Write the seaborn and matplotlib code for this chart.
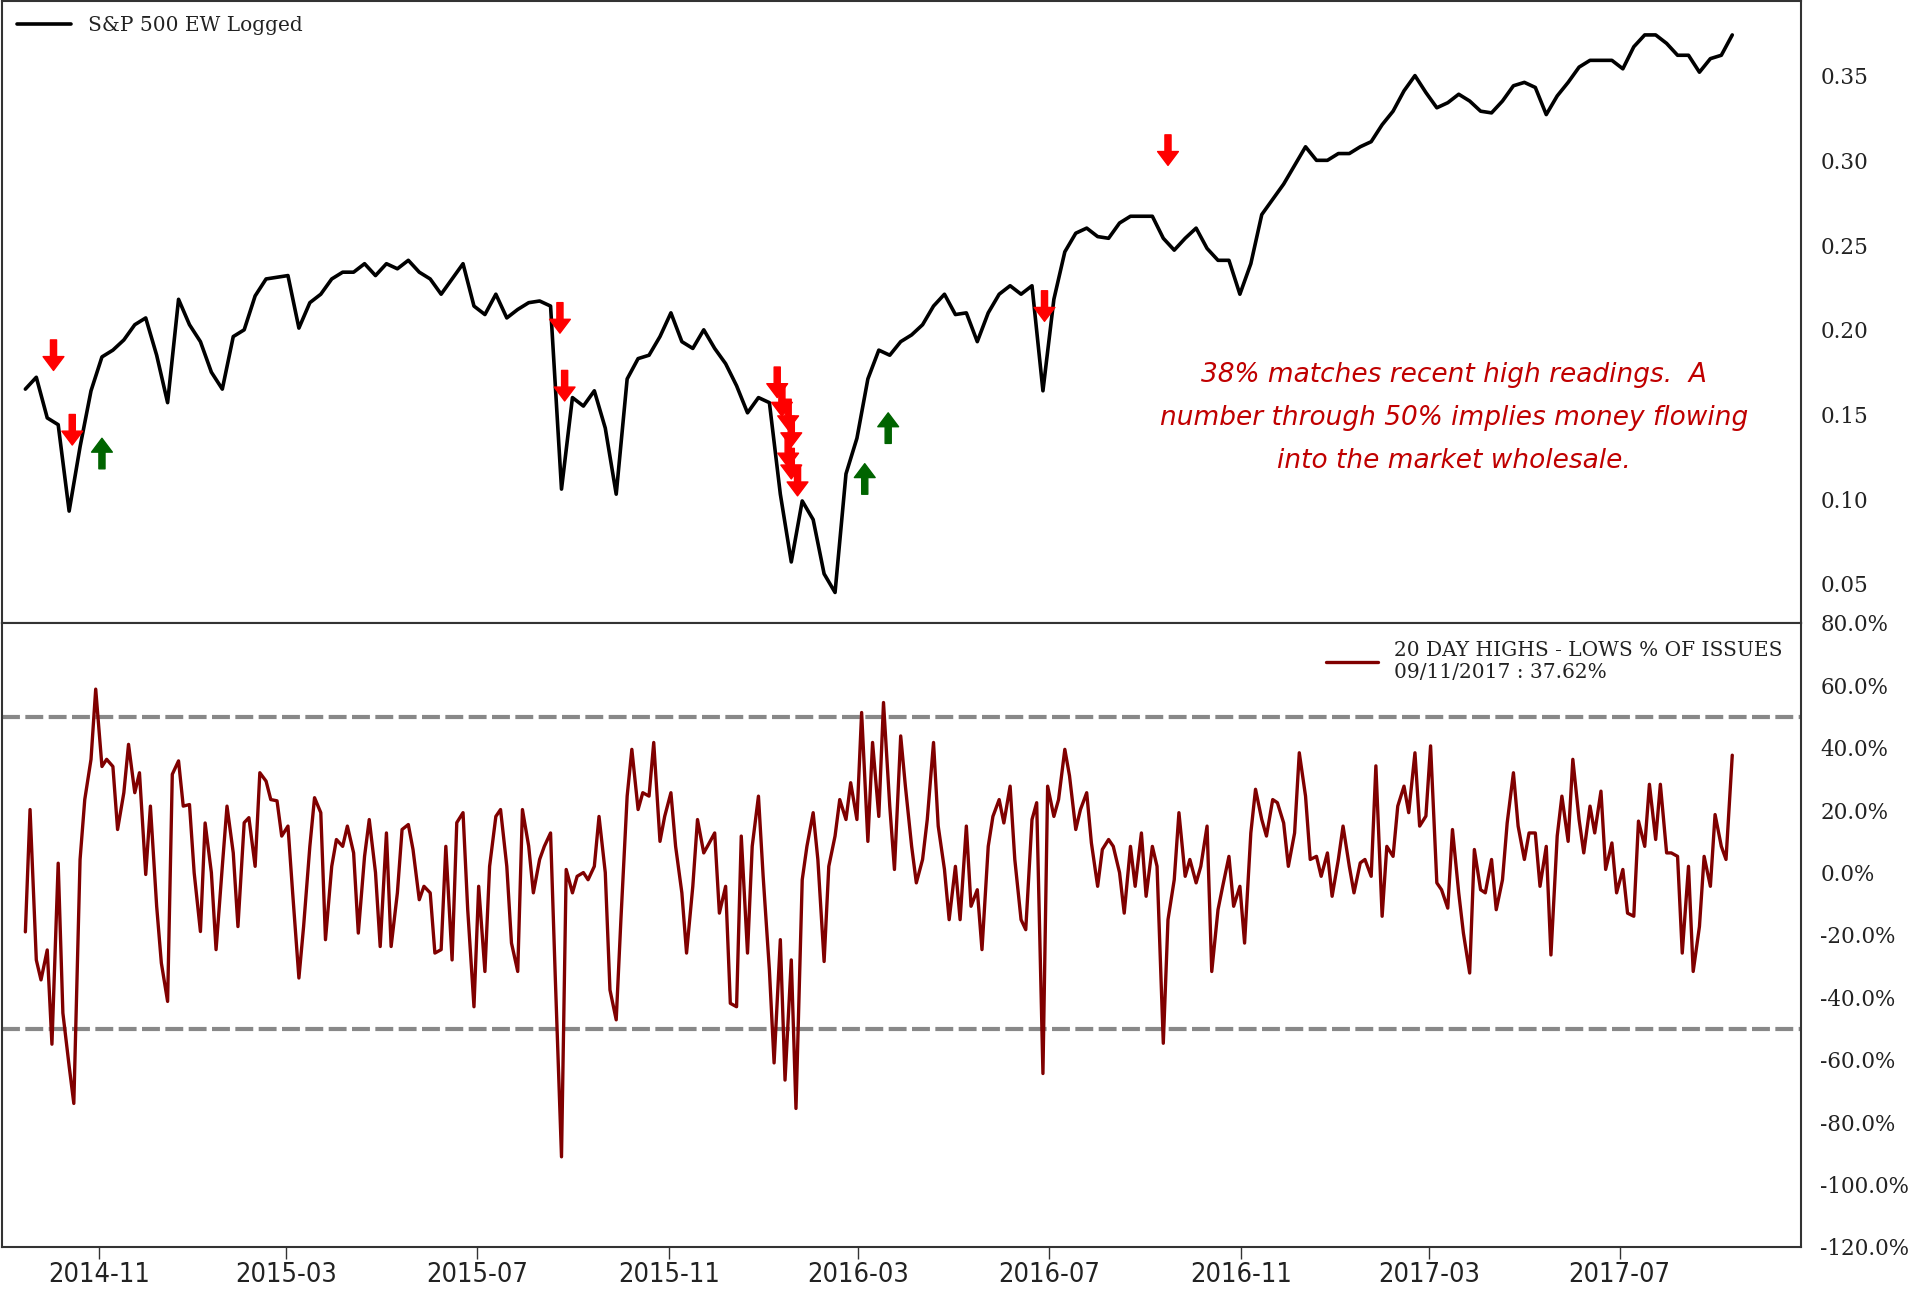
import pandas as pd
import matplotlib
matplotlib.use('Agg')
import matplotlib.pyplot as plt
import matplotlib.dates as mdates
from matplotlib.ticker import FuncFormatter
import seaborn as sns

# weekly closes of the log equal-weight index
weeks = pd.date_range('2014-09-15', '2017-09-11', freq='W-MON')
sp_ew_logged = [
    0.165, 0.172, 0.148, 0.144, 0.093, 0.131, 0.164, 0.184, 0.188, 0.194,
    0.203, 0.207, 0.185, 0.157, 0.218, 0.203, 0.193, 0.175, 0.165, 0.196,
    0.200, 0.220, 0.230, 0.231, 0.232, 0.201, 0.216, 0.221, 0.230, 0.234,
    0.234, 0.239, 0.232, 0.239, 0.236, 0.241, 0.234, 0.230, 0.221, 0.230,
    0.239, 0.214, 0.209, 0.221, 0.207, 0.212, 0.216, 0.217, 0.214, 0.106,
    0.160, 0.155, 0.164, 0.142, 0.103, 0.171, 0.183, 0.185, 0.196, 0.210,
    0.193, 0.189, 0.200, 0.189, 0.180, 0.167, 0.151, 0.160, 0.157, 0.103,
    0.063, 0.099, 0.088, 0.056, 0.045, 0.115, 0.136, 0.171, 0.188, 0.185,
    0.193, 0.197, 0.203, 0.214, 0.221, 0.209, 0.210, 0.193, 0.210, 0.221,
    0.226, 0.221, 0.226, 0.164, 0.218, 0.246, 0.257, 0.260, 0.255, 0.254,
    0.263, 0.267, 0.267, 0.267, 0.254, 0.247, 0.254, 0.260, 0.248, 0.241,
    0.241, 0.221, 0.239, 0.268, 0.277, 0.286, 0.297, 0.308, 0.300, 0.300,
    0.304, 0.304, 0.308, 0.311, 0.321, 0.329, 0.341, 0.350, 0.340, 0.331,
    0.334, 0.339, 0.335, 0.329, 0.328, 0.335, 0.344, 0.346, 0.343, 0.327,
    0.338, 0.346, 0.355, 0.359, 0.359, 0.359, 0.354, 0.367, 0.374, 0.374,
    0.369, 0.362, 0.362, 0.352, 0.360, 0.362, 0.374,
]

# 20 day highs - lows, % of issues, Mondays and Thursdays
half_weeks = pd.date_range('2014-09-15', '2017-09-11', freq='W-MON').union(
    pd.date_range('2014-09-15', '2017-09-11', freq='W-THU'))
hl_pct = [
    -19, 20.2, -28, -34.4, -24.8, -55, 3, -45, -62, -74,
    4.2, 23.4, 36.3, 58.8, 34, 36.3, 34, 13.8, 25.6, 41.1,
    25.6, 32, -0.6, 21.3, -10.8, -29, -41.3, 31.5, 35.8, 21.3,
    21.8, -0.1, -18.9, 15.9, 0, -24.7, 2, 21.3, 6.3, -17.3,
    16, 17.6, 2, 32, 29.3, 23.4, 23, 11.7, 14.9, -6.5,
    -33.8, -17.3, 8.4, 24, 19.2, -21.5, 2, 10.6, 8.4, 14.9,
    6.3, -19.4, 5.2, 17, 0, -23.7, 12.7, -23.7, -6.5, 13.8,
    15.4, 7.4, -8.7, -4.4, -6.5, -25.8, -24.7, 8.4, -28, 16,
    19.2, -11.9, -43, -4.4, -31.7, 2, 18, 20.2, 2, -22.6,
    -31.7, 20.2, 8.5, -6.5, 4.2, 8.4, 12.7, -33.3, -91.1, 1,
    -6.5, -1.2, 0, -2.3, 2, 18, 0, -37.6, -47.2, -15.1,
    24.5, 39.5, 20.2, 25.6, 24.5, 41.7, 10, 18, 25.6, 8.4,
    -6.5, -25.8, -4.4, 17, 6.3, 9, 12.7, -13, -4.4, -41.9,
    -43, 11.7, -25.8, 8.4, 24.5, -1.2, -31.2, -61, -21.5, -66.5,
    -28, -75.6, -2.3, 8.4, 19.2, 4.2, -28.5, 2, 11.7, 23.4,
    17, 28.8, 17, 51.3, 10, 41.7, 18, 54.5, 21.3, 1,
    43.8, 27.7, 8.4, -3.3, 4.2, 17, 41.7, 14.9, 1, -15.1,
    2, -15.1, 14.9, -10.8, -5.5, -24.7, 8.4, 18, 23.4, 15.9,
    27.7, 4.2, -15.1, -18.3, 17, 22.4, -64.4, 27.7, 18, 23.4,
    39.5, 31, 13.8, 20.2, 25.6, 9.5, -4.4, 7.4, 10.6, 8.4,
    0, -13, 8.4, -4.4, 12.7, -7.6, 8.4, 2, -54.7, -15.1,
    -2.3, 19.2, -1.2, 4.2, -3.3, 2, 14.9, -31.7, -11.9, -4.4,
    5.2, -10.8, -4.4, -22.6, 12.7, 26.7, 17, 11.7, 23.4, 22.4,
    15.9, 2, 12.7, 38.4, 24.5, 4.2, 5.2, -1.2, 6.3, -7.6,
    4.2, 14.9, 2, -6.5, 3.1, 4.2, -1.2, 34.2, -14, 8.4,
    5.2, 21.3, 27.7, 19.2, 38.4, 14.9, 18.1, 40.6, -3.3, -5.5,
    -11.4, 13.8, -6.5, -19.4, -32.2, 7.4, -5.5, -6.5, 4.2, -11.9,
    -2.3, 15.9, 32, 14.9, 4.2, 12.7, 12.7, -4.4, 8.4, -26.4,
    11.7, 24.5, 10, 36.3, 17, 6.3, 21.3, 12.7, 26.1, 1,
    9.5, -6.5, 1, -13, -14, 16.5, 8.4, 28.3, 10.6, 28.3,
    6.3, 6.3, 5.2, -25.8, 2, -31.7, -17.3, 5.2, -4.4, 18.6,
    8.4, 4.2, 37.62,
]

# signal arrows (tip position on the index panel)
sell_dates = ['2014-10-03', '2014-10-15', '2015-08-23', '2015-08-26',
              '2016-01-09', '2016-01-12', '2016-01-16', '2016-01-18',
              '2016-01-16', '2016-01-18', '2016-01-22', '2016-06-28', '2016-09-15']
sell_levels = [0.176, 0.132, 0.198, 0.158, 0.160, 0.149, 0.141, 0.131,
               0.119, 0.112, 0.102, 0.205, 0.297]
buy_dates = ['2014-11-03', '2016-03-05', '2016-03-20']
buy_levels = [0.136, 0.121, 0.151]

band_levels = [50, -50]
note = ("38% matches recent high readings.  A\n"
        "number through 50% implies money flowing\n"
        "into the market wholesale.")

top_df = pd.DataFrame({'date': weeks, 'value': sp_ew_logged})
bot_df = pd.DataFrame({'date': half_weeks, 'value': hl_pct})

sns.set_style('white')
plt.rcParams['font.family'] = ['DejaVu Serif']

fig = plt.figure(figsize=(19.16, 12.89), dpi=100)
ax1 = fig.add_axes([0.001, 0.5167, 0.939, 0.4825])
ax2 = fig.add_axes([0.001, 0.0326, 0.939, 0.4841])

xlim = (pd.Timestamp('2014-08-31'), pd.Timestamp('2017-10-25'))
text_col = '#222222'
arrow_style = 'simple,head_length=0.5,head_width=0.75,tail_width=0.22'

# top panel
sns.lineplot(data=top_df, x='date', y='value', ax=ax1, color='black',
             linewidth=2.6, label='S&P 500 EW Logged')
for d, v in zip(sell_dates, sell_levels):
    ax1.annotate('', xy=(pd.Timestamp(d), v), xytext=(0, 22), textcoords='offset points',
                 arrowprops=dict(arrowstyle=arrow_style, color='#ff0000',
                                 shrinkA=0, shrinkB=0, mutation_scale=20))
for d, v in zip(buy_dates, buy_levels):
    ax1.annotate('', xy=(pd.Timestamp(d), v), xytext=(0, -22), textcoords='offset points',
                 arrowprops=dict(arrowstyle=arrow_style, color='#006400',
                                 shrinkA=0, shrinkB=0, mutation_scale=20))
ax1.text(0.807, 0.33, note, transform=ax1.transAxes, ha='center', va='center',
         color='#c00000', fontsize=19, style='italic', family='DejaVu Sans',
         linespacing=1.85)
ax1.set_xlim(xlim)
ax1.set_ylim(0.027, 0.394)
ax1.set_yticks([0.05, 0.10, 0.15, 0.20, 0.25, 0.30, 0.35])
ax1.yaxis.set_major_formatter(FuncFormatter(lambda v, p: f'{v:.2f}'))
ax1.yaxis.tick_right()
ax1.tick_params(axis='y', length=0, pad=14, labelsize=15.5, labelcolor=text_col)
ax1.tick_params(axis='x', bottom=False, labelbottom=False)
ax1.set_xlabel('')
ax1.set_ylabel('')
ax1.legend(loc='upper left', frameon=False, fontsize=14.5, handlelength=2.7,
           handletextpad=0.8, borderaxespad=0.35, labelcolor=text_col)

# bottom panel
sns.lineplot(data=bot_df, x='date', y='value', ax=ax2, color='#800000', linewidth=2.4,
             label='20 DAY HIGHS - LOWS % OF ISSUES\n09/11/2017 : 37.62%')
for lvl in band_levels:
    ax2.axhline(lvl, color='#888888', linewidth=3, dashes=(4.3, 1.3), zorder=1)
ax2.set_xlim(xlim)
ax2.set_ylim(-120, 80)
ax2.set_yticks(range(-120, 81, 20))
ax2.yaxis.set_major_formatter(FuncFormatter(lambda v, p: f'{v:.1f}%'))
ax2.yaxis.tick_right()
ax2.tick_params(axis='y', length=0, pad=14, labelsize=15.5, labelcolor=text_col)
ax2.xaxis.set_major_locator(mdates.MonthLocator(bymonth=[3, 7, 11]))
ax2.xaxis.set_major_formatter(mdates.DateFormatter('%Y-%m'))
ax2.tick_params(axis='x', bottom=True, length=8.7, width=1, color='#333333', pad=2,
                labelcolor=text_col)
for lab in ax2.get_xticklabels():
    lab.set_family('DejaVu Sans')
    lab.set_stretch('condensed')
    lab.set_fontsize(19.5)
ax2.set_xlabel('')
ax2.set_ylabel('')
ax2.legend(loc='upper right', frameon=False, fontsize=14.5, handlelength=2.6,
           handletextpad=0.8, borderaxespad=0.5, labelspacing=0.2, labelcolor=text_col)

for ax in (ax1, ax2):
    for sp in ax.spines.values():
        sp.set_color('#333333')
        sp.set_linewidth(1.5)

fig.savefig('out.png', dpi=100)
